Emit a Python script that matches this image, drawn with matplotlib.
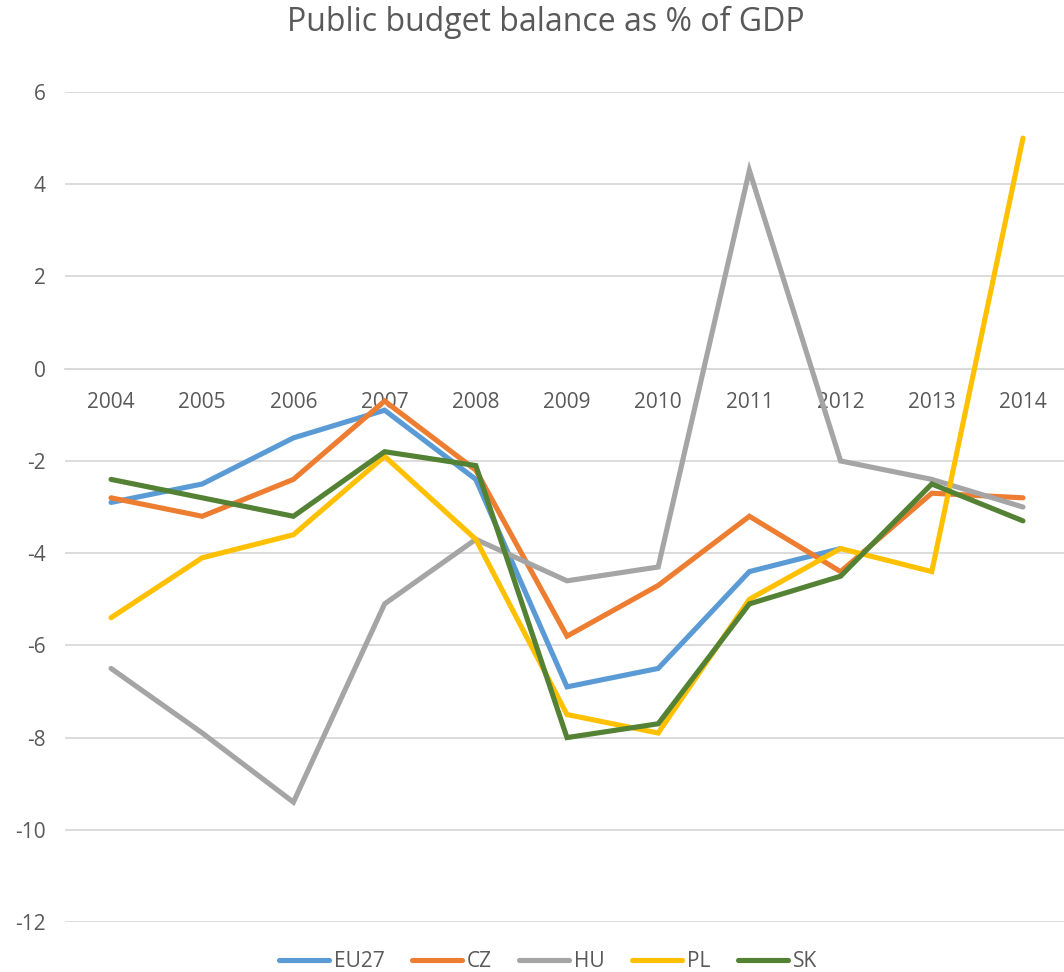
import numpy as np
import matplotlib
matplotlib.use("Agg")
import matplotlib.pyplot as plt

years = ["2004", "2005", "2006", "2007", "2008", "2009", "2010", "2011", "2012", "2013", "2014"]
eu27 = [-2.9, -2.5, -1.5, -0.9, -2.4, -6.9, -6.5, -4.4, -3.9, np.nan, np.nan]
cz = [-2.8, -3.2, -2.4, -0.7, -2.2, -5.8, -4.7, -3.2, -4.4, -2.7, -2.8]
hu = [-6.5, -7.9, -9.4, -5.1, -3.7, -4.6, -4.3, 4.3, -2.0, -2.4, -3.0]
pl = [-5.4, -4.1, -3.6, -1.9, -3.7, -7.5, -7.9, -5.0, -3.9, -4.4, 5.0]
sk = [-2.4, -2.8, -3.2, -1.8, -2.1, -8.0, -7.7, -5.1, -4.5, -2.5, -3.3]

series = [("EU27", eu27, "#5B9BD5"), ("CZ", cz, "#ED7D31"), ("HU", hu, "#A5A5A5"),
          ("PL", pl, "#FFC000"), ("SK", sk, "#548235")]

plt.rcParams['font.family'] = ['Open Sans', 'DejaVu Sans']
plt.rcParams['axes.unicode_minus'] = False
txt = "#595959"

fig = plt.figure(figsize=(10.64, 9.72), dpi=100)
ax = fig.add_axes([0.0615, 0.0514, 1.0 - 0.0615, 0.9053 - 0.0514])

x = np.arange(len(years))
for name, vals, col in series:
    ax.plot(x, vals, color=col, lw=3.7, label=name, solid_capstyle='round', solid_joinstyle='miter', zorder=3)

ax.set_xlim(-0.5, 10.45)
ax.set_ylim(-12, 6)
ax.set_yticks(np.arange(-12, 7, 2))
ax.grid(axis='y', color='#D9D9D9', lw=1.3, zorder=0)
for s in ['top', 'right', 'left']:
    ax.spines[s].set_visible(False)
ax.spines['bottom'].set_position(('data', 0))
ax.spines['bottom'].set_color('#D9D9D9')
ax.spines['bottom'].set_linewidth(1.3)
ax.set_xticks(x)
ax.set_xticklabels(years)
ax.tick_params(axis='x', length=0, pad=17, labelsize=15, labelcolor=txt)
ax.tick_params(axis='y', length=0, pad=14, labelsize=15, labelcolor=txt)

fig.text(0.513, 0.977, "Public budget balance as % of GDP", ha='center', va='center',
         fontsize=23, color=txt)

fig.legend(loc='center', bbox_to_anchor=(0.515, 0.011), ncol=5, frameon=False,
           fontsize=15, handlelength=2.4, columnspacing=1.3, handletextpad=0.25,
           labelcolor=txt)

fig.savefig("out.png", dpi=100)
